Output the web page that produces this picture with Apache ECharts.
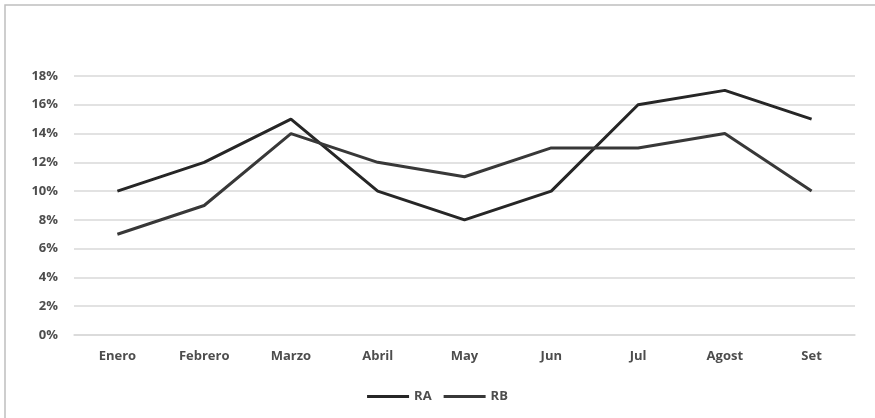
<!DOCTYPE html>
<html>
<head>
<meta charset="utf-8">
<script src="https://cdn.jsdelivr.net/npm/echarts@6/dist/echarts.min.js"></script>
<style>
  html, body { margin: 0; padding: 0; background: #fff; }
  #chart { width: 875px; height: 418px; }
</style>
</head>
<body>
<div id="chart"></div>
<script>
// Monthly rates for the two series, in percent
const months = ['Enero', 'Febrero', 'Marzo', 'Abril', 'May', 'Jun', 'Jul', 'Agost', 'Set'];
const seriesRA = [10, 12, 15, 10, 8, 10, 16, 17, 15];
const seriesRB = [7, 9, 14, 12, 11, 13, 13, 14, 10];

const labelFont = { color: '#4d4d4d', fontFamily: 'Open Sans, Liberation Sans, sans-serif', fontSize: 13, fontWeight: 'bold' };

const chart = echarts.init(document.getElementById('chart'), null, { renderer: 'canvas' });
chart.setOption({
  animation: false,
  backgroundColor: '#fff',
  graphic: [{
    type: 'rect',
    shape: { x: 5, y: 5, width: 880, height: 430 },
    style: { fill: 'none', stroke: '#bfbfbf', lineWidth: 1.5 }
  }],
  grid: { left: 74, right: 20, top: 76, bottom: 83 },
  xAxis: {
    type: 'category',
    data: months,
    boundaryGap: true,
    axisLine: { show: true, lineStyle: { color: '#d9d9d9', width: 1.5 } },
    axisTick: { show: false },
    axisLabel: Object.assign({ margin: 15 }, labelFont)
  },
  yAxis: {
    type: 'value',
    min: 0,
    max: 18,
    interval: 2,
    axisLine: { show: false },
    axisTick: { show: false },
    splitLine: { lineStyle: { color: '#d9d9d9', width: 1.5 } },
    axisLabel: Object.assign({ margin: 16, formatter: v => v + '%' }, labelFont)
  },
  legend: {
    bottom: 10,
    left: 'center',
    itemWidth: 42,
    itemHeight: 3,
    itemGap: 12,
    icon: 'rect',
    textStyle: labelFont,
    data: ['RA', 'RB']
  },
  series: [
    {
      name: 'RA',
      type: 'line',
      data: seriesRA,
      symbol: 'none',
      lineStyle: { color: '#262626', width: 3 },
      itemStyle: { color: '#262626' }
    },
    {
      name: 'RB',
      type: 'line',
      data: seriesRB,
      symbol: 'none',
      lineStyle: { color: '#383838', width: 3 },
      itemStyle: { color: '#383838' }
    }
  ]
});
</script>
</body>
</html>
